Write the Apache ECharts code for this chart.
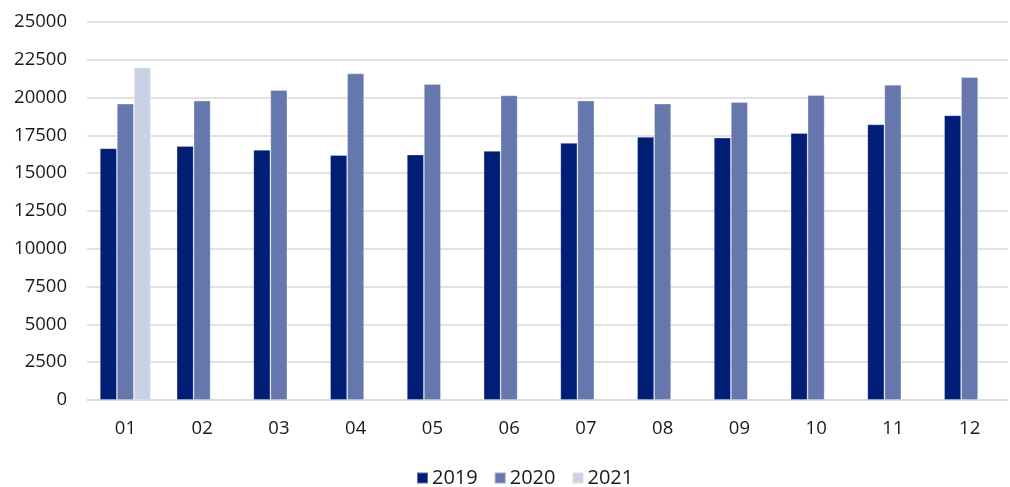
<!DOCTYPE html>
<html><head><meta charset="utf-8">
<script src="https://cdn.jsdelivr.net/npm/echarts@6/dist/echarts.min.js"></script>
<style>html,body{margin:0;padding:0;background:#fff}#c{width:1010px;height:487px}</style>
</head><body><div id="c"></div>
<script>
var categories = ['01','02','03','04','05','06','07','08','09','10','11','12'];
var s2019 = [16650,16800,16550,16200,16230,16470,17000,17400,17350,17660,18230,18830];
var s2020 = [19600,19800,20500,21600,20900,20150,19800,19600,19700,20170,20850,21360];
var s2021 = [22000,null,null,null,null,null,null,null,null,null,null,null];
var yTicks = [0,2500,5000,7500,10000,12500,15000,17500,20000,22500,25000];

var font = '"Open Sans", "Noto Sans", sans-serif';
var chart = echarts.init(document.getElementById('c'));
function bar(name, data, color){
  return {name:name, type:'bar', data:data, barWidth:17, barGap:'0%',
    itemStyle:{color:color, borderColor:'rgba(255,255,255,0.35)', borderWidth:0.8}};
}
chart.setOption({
  animation:false,
  grid:{left:87, right:2, top:22, bottom:87},
  legend:{top:463, left:411, itemWidth:11, itemHeight:11, itemGap:16, icon:'rect',
    textStyle:{fontFamily:font, fontSize:20, color:'#1a1a1a', padding:[0,0,0,-1]}},
  xAxis:{type:'category', data:categories,
    axisLine:{lineStyle:{color:'#d9d9d9', width:1.5}}, axisTick:{show:false},
    axisLabel:{fontFamily:font, fontSize:18.5, color:'#1a1a1a', margin:19}},
  yAxis:{type:'value', min:0, max:25000, interval:2500,
    axisLine:{show:false}, axisTick:{show:false},
    splitLine:{lineStyle:{color:'#d9d9d9', width:1.5}},
    axisLabel:{fontFamily:font, fontSize:18.5, color:'#1a1a1a', margin:20,
      formatter:function(v){return yTicks.indexOf(v)>=0?String(v):'';}}},
  series:[bar('2019', s2019, '#001e75'), bar('2020', s2020, '#6677ae'), bar('2021', s2021, '#cbd1e4')]
});
</script></body></html>
